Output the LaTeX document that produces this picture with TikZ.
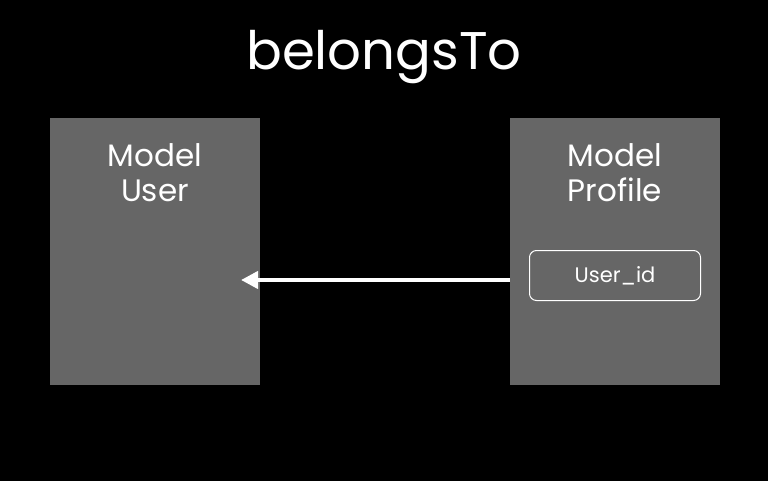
\documentclass[tikz,border=0pt]{standalone}
\usepackage{fontspec}
\setmainfont{Poppins}
\usetikzlibrary{positioning,arrows.meta}
\definecolor{boxgray}{HTML}{666666}
\tikzset{
  modelbox/.style={fill=boxgray, draw=none, minimum width=210pt, minimum height=267pt, inner sep=0pt},
  boxtitle/.style={text=white, align=center, font=\fontsize{31}{35}\selectfont, inner sep=0pt},
  fieldbox/.style={draw=white, line width=1pt, fill=boxgray, rounded corners=7pt,
    minimum width=171pt, minimum height=50pt, text=white, font=\fontsize{21}{25}\selectfont},
  link/.style={draw=white, line width=4pt, -{Triangle[length=17pt,width=17pt]}}
}
\begin{document}
\begin{tikzpicture}[x=1pt,y=-1pt]
    \fill[black] (0,0) rectangle (768,481);
    \useasboundingbox (0,0) rectangle (768,481);

    \node[text=white, font=\fontsize{53}{57}\selectfont, inner sep=0pt] (title) at (384,57) {belongsTo};

    \node[modelbox] (user) at (155,251.5) {};
    \node[modelbox] (profile) at (615,251.5) {};

    \node[boxtitle] (usertxt) at (155,173) {Model\\User};
    \node[boxtitle] (profiletxt) at (615,173) {Model\\Profile};

    \node[fieldbox] (userid) at (615,275.5) {User\_id};

    \coordinate (pout) at (510,280);
    \coordinate (uin) at (241,280);
    \draw[link] (pout) -- (uin);
\end{tikzpicture}
\end{document}
